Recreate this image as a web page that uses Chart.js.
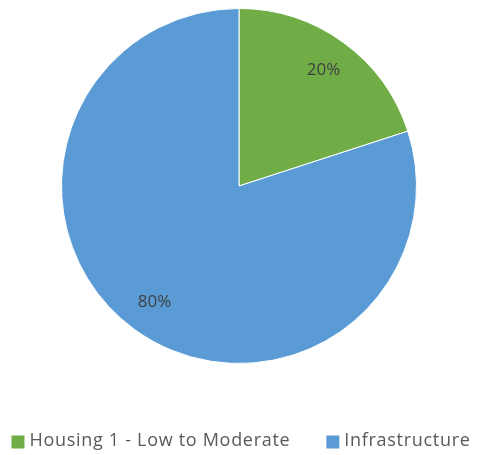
<!DOCTYPE html>
<html>
<head>
<meta charset="utf-8">
<script src="https://cdn.jsdelivr.net/npm/chart.js@4/dist/chart.umd.min.js"></script>
<style>
html,body{margin:0;padding:0;background:#fff;}
#wrap{width:478px;height:455px;position:relative;}
</style>
</head>
<body>
<div id="wrap"><canvas id="c" width="478" height="455"></canvas></div>
<script>
const categories = ["Housing 1 - Low to Moderate", "Infrastructure"];
const values = [20, 80];
const colors = ["#70AD47", "#5B9BD5"];
const pctLabels = ["20%", "80%"];

const labelPlugin = {
  id: 'pctLabels',
  afterDatasetsDraw(chart) {
    const ctx = chart.ctx;
    const meta = chart.getDatasetMeta(0);
    ctx.save();
    ctx.font = '17px "Open Sans"';
    ctx.fillStyle = '#404040';
    ctx.textAlign = 'center';
    ctx.textBaseline = 'middle';
    meta.data.forEach((arc, i) => {
      const p = arc.getProps(['x','y','startAngle','endAngle','outerRadius'], true);
      const mid = (p.startAngle + p.endAngle) / 2;
      const r = p.outerRadius * 0.81;
      ctx.fillText(pctLabels[i], p.x + Math.cos(mid) * r, p.y + Math.sin(mid) * r);
    });
    ctx.restore();
  }
};

// Legend drawn from the chart's own labels/colours
const legendPlugin = {
  id: 'bottomLegend',
  afterDraw(chart) {
    const ctx = chart.ctx;
    const labels = chart.data.labels;
    const bg = chart.data.datasets[0].backgroundColor;
    const box = 13, gapText = 5, gapItem = 36;
    ctx.save();
    ctx.font = '18px "Open Sans"';
    if ('letterSpacing' in ctx) ctx.letterSpacing = '0.7px';
    ctx.textBaseline = 'middle';
    ctx.textAlign = 'left';
    const widths = labels.map(l => ctx.measureText(l).width);
    let total = 0;
    widths.forEach((w, i) => { total += box + gapText + w + (i < widths.length - 1 ? gapItem : 0); });
    let x = 241 - total / 2;
    const yc = chart.chartArea.bottom + 77;
    labels.forEach((l, i) => {
      ctx.fillStyle = bg[i];
      ctx.fillRect(x, yc - box / 2 + 1, box, box);
      x += box + gapText;
      ctx.fillStyle = '#595959';
      ctx.fillText(l, x, yc);
      x += widths[i] + gapItem;
    });
    ctx.restore();
  }
};

new Chart(document.getElementById('c'), {
  type: 'pie',
  data: {
    labels: categories,
    datasets: [{
      data: values,
      backgroundColor: colors,
      borderColor: '#ffffff',
      borderWidth: 1
    }]
  },
  options: {
    responsive: false,
    animation: false,
    layout: { padding: { top: 8, bottom: 91, left: 0, right: 0 } },
    plugins: {
      tooltip: { enabled: false },
      legend: { display: false }
    }
  },
  plugins: [labelPlugin, legendPlugin]
});
</script>
</body>
</html>
